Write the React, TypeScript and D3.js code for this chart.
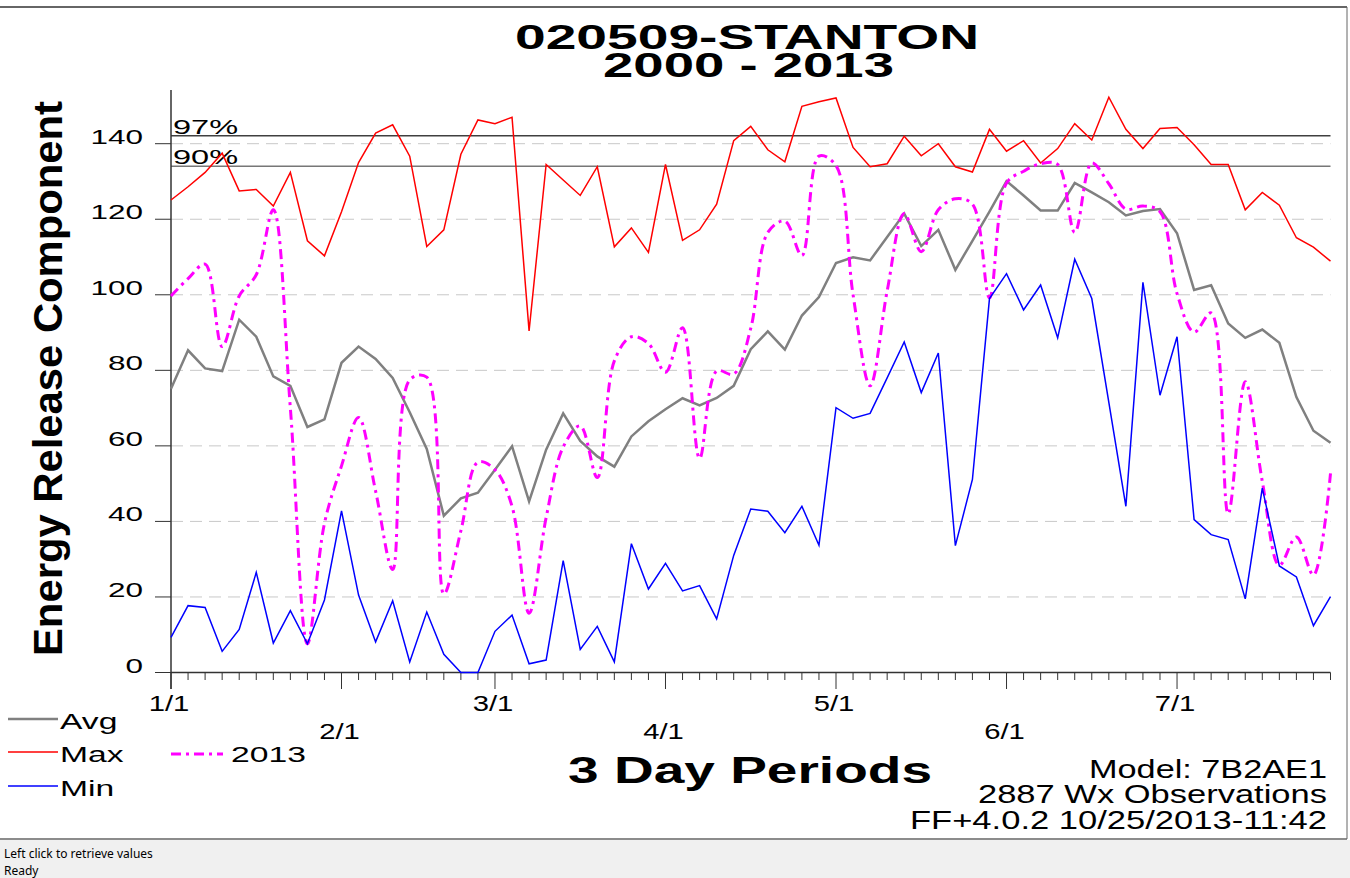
import React from 'react';
import * as d3 from 'd3';

// 3 day periods, index 0 = 1/1
const avgValues = [
  75.1, 85.3, 80.5, 79.8, 93.4, 88.9, 78.4, 75.9, 65, 67, 82, 86.3, 83, 78, 68.9, 59.2, 41.5, 46.1, 47.6, 53.7,
  59.9, 45.3, 59, 68.6, 61.3, 57.2, 54.5, 62.5, 66.5, 69.7, 72.6, 70.7, 72.7, 75.9, 85.6, 90.3, 85.5, 94.5, 99.4, 108.4,
  109.9, 109.1, 115.3, 121.5, 112.9, 117.2, 106.6, 114.3, 122, 130.1, 126.3, 122.3, 122.3, 129.6, 127.1, 124.5, 121, 122.2, 122.7, 116.3,
  101.3, 102.5, 92.4, 88.6, 90.8, 87.3, 72.9, 64, 60.8,
];
const maxValues = [
  125.1, 128.6, 132.4, 137.5, 127.5, 127.9, 123.5, 132.4, 114.3, 110.3, 122, 135, 142.8, 145, 136.7, 112.8, 117.2, 137.2, 146.3, 145.3,
  147, 90.4, 134.5, 130.4, 126.3, 133.9, 112.7, 117.7, 111.2, 134.5, 114.4, 117.2, 124, 140.8, 144.6, 138.4, 135.2, 149.9, 151.1, 152.1,
  139, 133.9, 134.7, 142, 136.8, 140, 133.9, 132.5, 143.8, 138, 140.8, 134.9, 138.7, 145.3, 141, 152.3, 143.8, 138.7, 144, 144.3,
  139.7, 134.5, 134.5, 122.5, 127.1, 123.7, 115.1, 112.6, 108.9,
];
const minValues = [
  9.3, 17.7, 17.2, 5.6, 11.4, 26.5, 7.8, 16.4, 7.6, 19.2, 42.8, 20.5, 8.1, 19, 2.8, 16, 4.8, 0, 0, 10.9,
  15.2, 2.3, 3.3, 29.6, 6.1, 12.2, 2.8, 34.1, 22.1, 28.9, 21.6, 23, 14.2, 31, 43.3, 42.7, 37, 44, 33.7, 70.1,
  67.3, 68.6, 78, 87.5, 74.1, 84.6, 33.6, 51.1, 99, 105.6, 96, 102.6, 88.6, 109.4, 99, 71.5, 44, 103.3, 73.4, 88.9,
  40.5, 36.5, 35.2, 19.5, 48.8, 28.2, 25.3, 12.4, 20.1,
];
const values2013 = [
  99.7, 104.3, 108.1, 86.3, 99.7, 105.3, 122.5, 70, 7.6, 39.5, 54.7, 67.5, 48, 27.3, 77.5, 78.2, 20.8, 37.5, 55.7, 53.7,
  44, 15.7, 41, 59.7, 65.3, 51.6, 82.5, 88.9, 87.1, 79.5, 91.3, 56.7, 79.8, 79, 91.1, 116.5, 119.5, 110.4, 136.7, 134.2,
  100, 75.9, 101, 121.5, 111.4, 122.5, 125.4, 124, 99.2, 129.6, 132.7, 134.7, 134.5, 116.5, 134.9, 129.4, 122.7, 123.5, 122, 100.3,
  90.1, 95.2, 42, 77, 50.6, 28.4, 35.9, 25.8, 52.7,
];

const monthLabels = ['1/1', '2/1', '3/1', '4/1', '5/1', '6/1', '7/1'];
const monthPeriods = [0, 10, 19, 29, 39, 49, 59];
const yTicks = [0, 20, 40, 60, 80, 100, 120, 140];
const pctLabels = ['97%', '90%'];
const pctValues = [142.1, 134];

const font = '"Liberation Sans", Arial, sans-serif';

const xScale = d3.scaleLinear().domain([0, avgValues.length - 1]).range([171, 1330.5]);
const yScale = d3.scaleLinear().domain([0, 140]).range([672.5, 143.7]);

const line = d3.line<number>().x((d, i) => xScale(i)).y((d) => yScale(d));
const smooth = d3.line<number>().x((d, i) => xScale(i)).y((d) => yScale(d)).curve(d3.curveCatmullRom);

// stretched text, the screenshot is wider than tall
const Wide = ({ x, y, sx, size, anchor = 'start', weight = 'normal', children }: any) => (
  <text transform={`translate(${x},${y}) scale(${sx},1)`} textAnchor={anchor}
    fontFamily={font} fontSize={size} fontWeight={weight}>{children}</text>
);

const legend = [
  { label: 'Avg', color: '#808080', y: 719, w: 2.5 },
  { label: 'Max', color: '#ff0000', y: 752, w: 1.5 },
  { label: 'Min', color: '#0000ff', y: 786, w: 1.5 },
];

export default function App() {
  const periods = d3.range(avgValues.length);
  return (
    <svg width={1350} height={878} style={{ position: 'absolute', left: 0, top: 0, background: '#fff' }}>
      {/* frame + status bar */}
      <rect x={0} y={840} width={1350} height={38} fill="#f0f0f0" />
      <line x1={0} x2={1347} y1={7} y2={7} stroke="#333" strokeWidth={1.5} />
      <line x1={1347} x2={1347} y1={7} y2={839} stroke="#666" strokeWidth={1} />
      <line x1={0} x2={1347} y1={839} y2={839} stroke="#666" strokeWidth={1.5} />
      <text x={4} y={858} fontFamily='"Noto Sans", sans-serif' fontSize={12}>Left click to retrieve values</text>
      <text x={4} y={875} fontFamily='"Noto Sans", sans-serif' fontSize={12}>Ready</text>

      {/* titles */}
      <text x={515} y={49} textLength={464} lengthAdjust="spacingAndGlyphs" fontFamily={font} fontSize={35} fontWeight="bold">020509-STANTON</text>
      <text x={603} y={77} textLength={291} lengthAdjust="spacingAndGlyphs" fontFamily={font} fontSize={35} fontWeight="bold">2000 - 2013</text>
      <text transform="translate(62,656) rotate(-90)" textLength={555} lengthAdjust="spacingAndGlyphs" fontFamily={font} fontSize={41} fontWeight="bold">Energy Release Component</text>
      <text x={568} y={783} textLength={364} lengthAdjust="spacingAndGlyphs" fontFamily={font} fontSize={36} fontWeight="bold">3 Day Periods</text>
      <text x={1327 - 238} y={778} textLength={238} lengthAdjust="spacingAndGlyphs" fontFamily={font} fontSize={25}>Model: 7B2AE1</text>
      <text x={1327 - 349} y={803} textLength={349} lengthAdjust="spacingAndGlyphs" fontFamily={font} fontSize={25}>2887 Wx Observations</text>
      <text x={1327 - 417} y={829} textLength={417} lengthAdjust="spacingAndGlyphs" fontFamily={font} fontSize={25}>FF+4.0.2 10/25/2013-11:42</text>

      {/* grid */}
      {yTicks.filter((t) => t > 0).map((t) => (
        <line key={t} x1={xScale(0)} x2={xScale(68)} y1={yScale(t)} y2={yScale(t)}
          stroke="#c8c8c8" strokeDasharray="12 7" />
      ))}
      {pctValues.map((v, i) => (
        <g key={pctLabels[i]}>
          <line x1={xScale(0)} x2={xScale(68)} y1={yScale(v)} y2={yScale(v)}
            stroke={i === 0 ? '#404040' : '#777'} strokeWidth={1.5} />
          <Wide x={173} y={yScale(v) - 2} sx={1.55} size={21}>{pctLabels[i]}</Wide>
        </g>
      ))}

      {/* y axis */}
      <line x1={171} x2={171} y1={90} y2={689} stroke="#333" strokeWidth={1.5} />
      {yTicks.map((t) => (
        <g key={t}>
          <line x1={155} x2={171} y1={yScale(t)} y2={yScale(t)} stroke="#333" />
          <Wide x={143} y={yScale(t)} sx={1.5} size={21} anchor="end">{t}</Wide>
        </g>
      ))}

      {/* x axis */}
      <line x1={171} x2={xScale(68)} y1={672.5} y2={672.5} stroke="#333" strokeWidth={1.5} />
      {periods.map((p) => (
        <line key={p} x1={xScale(p)} x2={xScale(p)} y1={672.5}
          y2={monthPeriods.includes(p) ? 689 : 680} stroke="#333" />
      ))}
      {monthLabels.map((m, i) => (
        <Wide key={m} x={xScale(monthPeriods[i]) - 2} y={i % 2 === 0 ? 711 : 739} sx={1.33} size={22} anchor="middle">{m}</Wide>
      ))}

      {/* series */}
      <path d={line(maxValues) ?? ''} fill="none" stroke="#ff0000" strokeWidth={1.5} />
      <path d={line(avgValues) ?? ''} fill="none" stroke="#808080" strokeWidth={2.5} />
      <path d={smooth(values2013) ?? ''} fill="none" stroke="#ff00ff" strokeWidth={3} strokeDasharray="10 5 3 5" />
      <path d={line(minValues) ?? ''} fill="none" stroke="#0000ff" strokeWidth={1.5} />

      {/* legend */}
      {legend.map((l) => (
        <g key={l.label}>
          <line x1={8} x2={58} y1={l.y} y2={l.y} stroke={l.color} strokeWidth={l.w} />
          <Wide x={60} y={l.y + 10} sx={1.53} size={22}>{l.label}</Wide>
        </g>
      ))}
      <line x1={171} x2={223} y1={754} y2={754} stroke="#ff00ff" strokeWidth={3} strokeDasharray="10 5 3 5" />
      <Wide x={231} y={762} sx={1.53} size={22}>2013</Wide>
    </svg>
  );
}
